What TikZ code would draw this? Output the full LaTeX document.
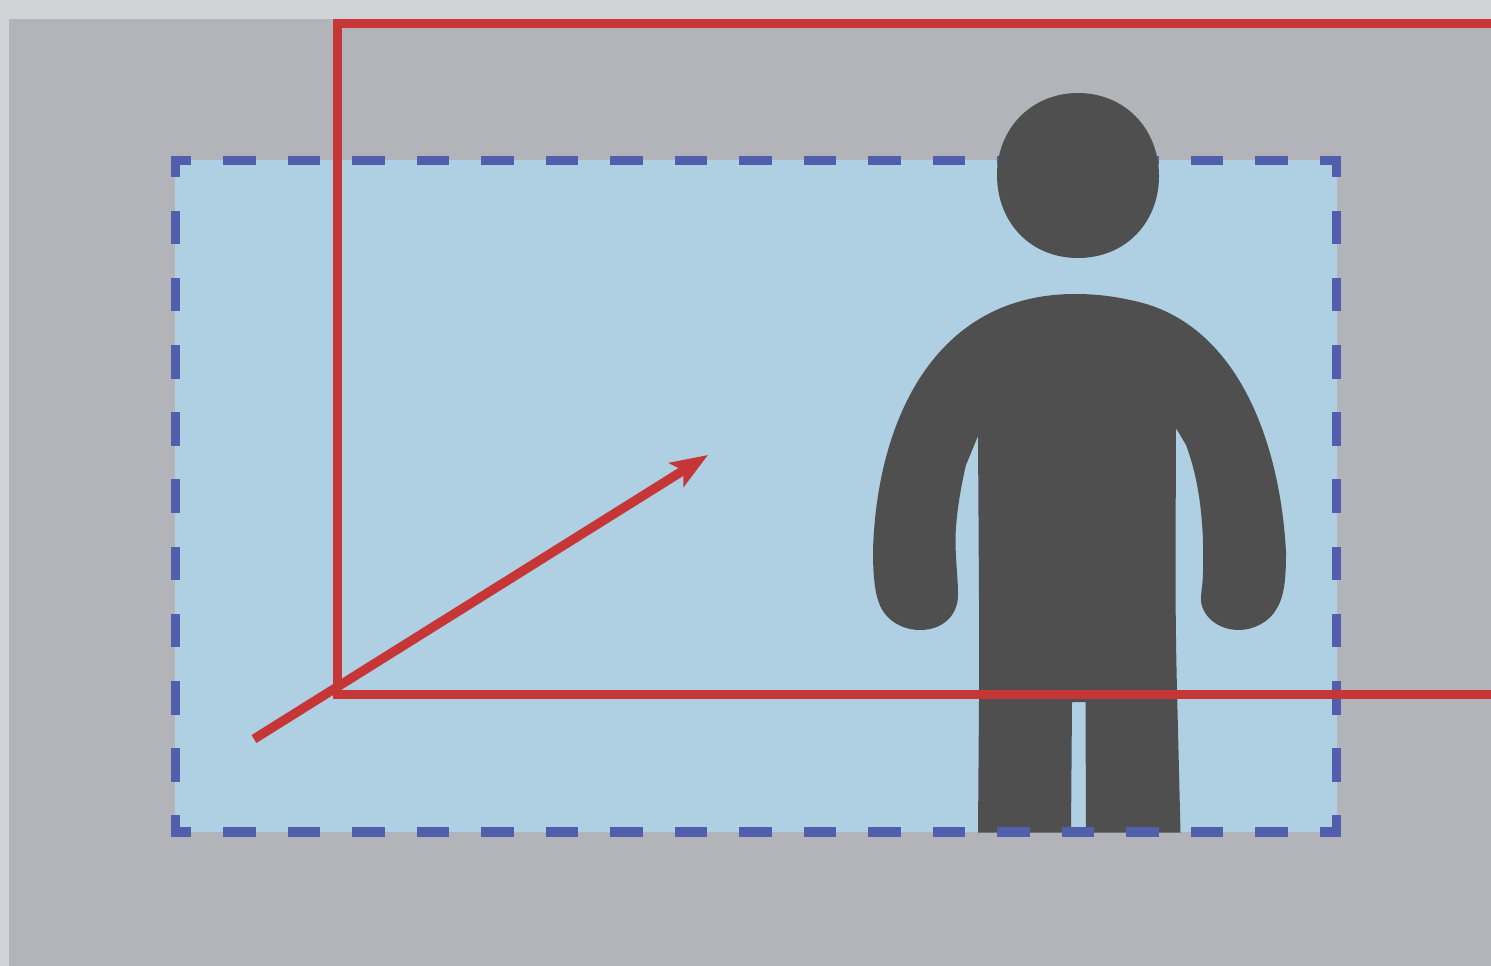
\documentclass[tikz,border=0pt]{standalone}
\usetikzlibrary{arrows.meta}
\definecolor{pagebg}{HTML}{D2D3D7}
\definecolor{wallgray}{HTML}{B3B4B9}
\definecolor{skyfill}{HTML}{AFD0E3}
\definecolor{dashblue}{HTML}{505EAB}
\definecolor{redline}{HTML}{C63636}
\definecolor{figuregray}{HTML}{4F4F4F}
\tikzset{
  hdash/.style={draw=dashblue,line width=9.3pt,dash pattern=on 32.25pt off 32.25pt,dash phase=12.25pt},
  vdash/.style={draw=dashblue,line width=9.3pt,dash pattern=on 33.6pt off 33.6pt,dash phase=12.6pt},
  redstroke/.style={draw=redline,line width=9.3pt},
  silhouette/.style={fill=figuregray,draw=none}
}
\begin{document}
\begin{tikzpicture}[x=1pt,y=-1pt]
\useasboundingbox (0,0) rectangle (1491,966);
\fill[pagebg] (0,0) rectangle (1491,966);
\fill[wallgray] (9,19) rectangle (1491,966);
\fill[skyfill] (175,160) rectangle (1337,832);
\draw[hdash] (171,160.5) -- (1341,160.5);
% head
\fill[silhouette] (1078,93) .. controls (1124,93) and (1159,128) .. (1159,176)
  .. controls (1159,222) and (1126,258) .. (1078,258)
  .. controls (1030,258) and (997,222) .. (997,175)
  .. controls (997,128) and (1032,93) .. (1078,93) -- cycle;
% body
\fill[silhouette] (1075,294)
  .. controls (1095,294) and (1112,296) .. (1130,300)
  .. controls (1236,320) and (1280,440) .. (1286,552)
  .. controls (1286,575) and (1285,595) .. (1277,608)
  .. controls (1270,622) and (1253,630) .. (1239,630)
  .. controls (1217,630) and (1201,615) .. (1201,599)
  .. controls (1201,590) and (1203,585) .. (1203,570)
  .. controls (1204,530) and (1201,485) .. (1186,445)
  -- (1176,428)
  -- (1175.5,560)
  .. controls (1175.5,610) and (1176,650) .. (1177,690)
  -- (1180.5,832.5)
  -- (1086,832.5) -- (1085.5,702) -- (1072,702) -- (1071,832.5)
  -- (978,832.5)
  -- (979,700) -- (979,600) -- (978,436)
  -- (966,465)
  .. controls (960,490) and (955.5,520) .. (955.5,540)
  .. controls (955.5,560) and (958,578) .. (958,595)
  .. controls (958,615) and (943,630) .. (920,630)
  .. controls (902,630) and (885,620) .. (879,603)
  .. controls (874,590) and (873,570) .. (873,550)
  .. controls (877,420) and (935,294) .. (1075,294) -- cycle;
\draw[hdash] (171,832) -- (1341,832);
\draw[vdash] (175.5,156) -- (175.5,836);
\draw[vdash] (1336.5,156) -- (1336.5,836);
% red frame
\coordinate (frameTR) at (1491,23.6);
\coordinate (frameTL) at (337.6,23.6);
\coordinate (frameBL) at (337.6,694.6);
\coordinate (frameBR) at (1491,694.6);
\draw[redstroke,line join=miter] (frameTR) -- (frameTL) -- (frameBL) -- (frameBR);
% arrow
\coordinate (arrowStart) at (254,739);
\coordinate (arrowEnd) at (708,455);
\draw[redstroke,-{Stealth[length=37pt,width=27.5pt,inset=8pt]}] (arrowStart) -- (arrowEnd);
\end{tikzpicture}
\end{document}
